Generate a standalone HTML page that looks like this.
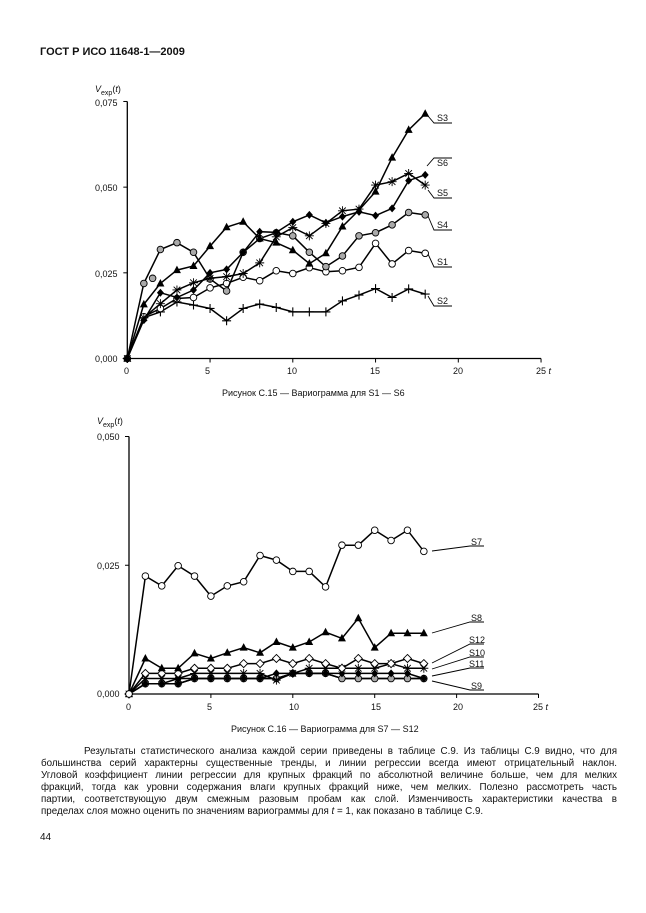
<!DOCTYPE html>
<html><head><meta charset="utf-8">
<style>
body{margin:0;background:#fff;width:646px;height:913px;overflow:hidden;font-family:"Liberation Sans",Arial,sans-serif;color:#111}
#hdr{position:absolute;left:40px;top:46px;font-weight:bold;font-size:11px}
#par{position:absolute;left:41px;top:746px;width:576px;font-size:9.8px;line-height:12px}
#par div{text-align:justify;text-align-last:justify;white-space:nowrap}
#par div.l{text-align-last:left}
#pg{position:absolute;left:40px;top:832px;font-size:10px}
svg{position:absolute;left:0;top:0}
svg text{font-family:"Liberation Sans",Arial,sans-serif;font-size:9px;fill:#111}
</style></head><body>
<div id="hdr">ГОСТ Р ИСО 11648-1—2009</div>
<svg id="s" width="646" height="913" viewBox="0 0 646 913">
<g id="g1"></g><g id="g2"></g>
<text x="95" y="92" font-style="italic">V<tspan font-size="7" dy="3" font-style="normal">exp</tspan><tspan dy="-3" font-style="normal">(</tspan>t<tspan font-style="normal">)</tspan></text>
<text x="95" y="106">0,075</text><text x="95" y="191">0,050</text><text x="95" y="277">0,025</text><text x="95" y="362">0,000</text>
<text x="124" y="374">0</text><text x="205" y="374">5</text><text x="287" y="374">10</text><text x="370" y="374">15</text><text x="453" y="374">20</text><text x="536" y="374">25 <tspan font-style="italic">t</tspan></text>
<text x="222" y="396">Рисунок С.15 — Вариограмма для S1 — S6</text>
<text x="437" y="121">S3</text><text x="437" y="166">S6</text><text x="437" y="196">S5</text><text x="437" y="228">S4</text><text x="437" y="265">S1</text><text x="437" y="304">S2</text>
<text x="97" y="424" font-style="italic">V<tspan font-size="7" dy="3" font-style="normal">exp</tspan><tspan dy="-3" font-style="normal">(</tspan>t<tspan font-style="normal">)</tspan></text>
<text x="97" y="440">0,050</text><text x="97" y="569">0,025</text><text x="97" y="697">0,000</text>
<text x="126" y="710">0</text><text x="207" y="710">5</text><text x="289" y="710">10</text><text x="371" y="710">15</text><text x="453" y="710">20</text><text x="533" y="710">25 <tspan font-style="italic">t</tspan></text>
<text x="231" y="732">Рисунок С.16 — Вариограмма для S7 — S12</text>
<text x="471" y="545">S7</text><text x="471" y="621">S8</text><text x="469" y="643">S12</text><text x="469" y="656">S10</text><text x="469" y="667">S11</text><text x="471" y="689">S9</text>
</svg>
<div id="par">
<div style="padding-left:43px">Результаты статистического анализа каждой серии приведены в таблице С.9. Из таблицы С.9 видно, что для</div>
<div>большинства серий характерны существенные тренды, и линии регрессии всегда имеют отрицательный наклон.</div>
<div>Угловой коэффициент линии регрессии для крупных фракций по абсолютной величине больше, чем для мелких</div>
<div>фракций, тогда как уровни содержания влаги крупных фракций ниже, чем мелких. Полезно рассмотреть часть</div>
<div>партии, соответствующую двум смежным разовым пробам как слой. Изменчивость характеристики качества в</div>
<div class="l">пределах слоя можно оценить по значениям вариограммы для <i>t</i> = 1, как показано в таблице С.9.</div>
</div>
<div id="pg">44</div>
<script>
function draw(gid,X0,PX,Y0,PY,ymax,series,labels){
 var g=document.getElementById(gid),h='';
 var X=function(t){return X0+t*PX},Y=function(v){return Y0-v*PY};
 h+='<line x1="'+X0+'" y1="'+Y(ymax)+'" x2="'+X0+'" y2="'+Y0+'" stroke="#000" stroke-width="1.3"/>';
 h+='<line x1="'+X0+'" y1="'+Y0+'" x2="'+X(25)+'" y2="'+Y0+'" stroke="#000" stroke-width="1.3"/>';
 for(var t=0;t<=25;t+=5)h+='<line x1="'+X(t)+'" y1="'+Y0+'" x2="'+X(t)+'" y2="'+(Y0+4)+'" stroke="#000"/>';
 for(var v=0;v<=ymax+1e-9;v+=25)h+='<line x1="'+(X0-4)+'" y1="'+Y(v)+'" x2="'+X0+'" y2="'+Y(v)+'" stroke="#000"/>';
 series.forEach(function(s){
  var p=s.d.map(function(v,i){return X(i).toFixed(1)+','+Y(v).toFixed(1)}).join(' ');
  h+='<polyline points="'+p+'" fill="none" stroke="#000" stroke-width="1.5"/>';
  s.d.forEach(function(v,i){h+=mk(s.m,X(i),Y(v));});
  if(s.x)s.x.forEach(function(q){h+=mk(s.m,X(q[0]),Y(q[1]));});
 });
 labels.forEach(function(l){
  h+='<polyline points="'+l[0]+','+l[1]+' '+l[2]+','+l[3]+' '+l[4]+','+l[3]+'" fill="none" stroke="#000" stroke-width="0.9"/>';
 });
 g.innerHTML=h;
}
function mk(m,x,y){
 var r=3.3;
 if(m=='tri')return '<polygon points="'+x+','+(y-4.5)+' '+(x-4)+','+(y+3)+' '+(x+4)+','+(y+3)+'" fill="#000"/>';
 if(m=='dia')return '<polygon points="'+x+','+(y-4)+' '+(x+3.5)+','+y+' '+x+','+(y+4)+' '+(x-3.5)+','+y+'" fill="#000"/>';
 if(m=='wdia')return '<polygon points="'+x+','+(y-4)+' '+(x+4)+','+y+' '+x+','+(y+4)+' '+(x-4)+','+y+'" fill="#fff" stroke="#000" stroke-width="0.9"/>';
 if(m=='wc')return '<circle cx="'+x+'" cy="'+y+'" r="'+r+'" fill="#fff" stroke="#000" stroke-width="0.9"/>';
 if(m=='gc')return '<circle cx="'+x+'" cy="'+y+'" r="'+r+'" fill="#aaa" stroke="#000" stroke-width="0.9"/>';
 if(m=='bc')return '<circle cx="'+x+'" cy="'+y+'" r="3.2" fill="#000"/>';
 if(m=='plus')return '<path d="M'+(x-4.5)+' '+y+'h9M'+x+' '+(y-4.5)+'v9" stroke="#000" stroke-width="1.1"/>';
 if(m=='ast')return '<path d="M'+(x-4.5)+' '+y+'h9M'+x+' '+(y-4.5)+'v9M'+(x-3.3)+' '+(y-3.3)+'l6.6 6.6M'+(x+3.3)+' '+(y-3.3)+'l-6.6 6.6" stroke="#000" stroke-width="0.9"/>';
 return '';
}
draw('g1',127.3,16.55,358.5,3.427,75,[
 {m:'plus',d:[0,11.9,13.6,16.5,15.6,14.6,11,14.6,15.9,14.9,13.6,13.6,13.6,16.8,18.5,20.4,17.8,20.3,18.8]},
 {m:'wc',d:[0,12.2,14.6,17.5,17.8,20.6,21.9,23.7,22.7,25.6,24.8,26.5,25.3,25.6,26.6,33.6,27.6,31.5,30.7]},
 {m:'gc',d:[0,21.9,31.8,33.8,31,23.2,19.7,31,35,36.7,35.8,31,26.8,29.9,35.8,36.7,39,42.6,41.9],x:[[1.53,23.4]]},
 {m:'ast',d:[0,11.9,16,20,22.1,23.4,23.9,24.8,27.9,35.5,38.2,35.8,39.4,43.1,43.6,50.6,51.6,54,50.6]},
 {m:'dia',d:[0,11.2,19.2,17.8,20,25,26,31,37,36.8,39.9,41.9,39.6,41.4,42.8,41.7,43.8,51.9,53.6]},
 {m:'tri',d:[0,15.8,21.9,25.8,27,32.8,38.3,39.9,35,33.8,31.6,27.7,30.7,38.5,43.3,48.7,58.6,66.7,71.4]}
],[[428,116,434,123,452],[427,166,434,158,452],[428,190,434,198,452],[428,216,434,230,452],[428,254,434,267,452],[428,296,434,306,452]]);
draw('g2',129,16.38,694,5.15,50,[
 {m:'bc',d:[0,2,2,3,3,3,3,3,3,3,4,4,4,3,3,3,3,3,3]},
 {m:'gc',d:[0,2,2,2,3,3,3,3,3,3,4,4,4,3,3,3,3,3,3]},
 {m:'dia',d:[0,2,2,2,3,3,3,3,3,4,4,4,4,4,4,4,4,4,3]},
 {m:'ast',d:[0,3,3,3,4,4,4,4,4,2.7,4,5,5,5,5,5,5.9,5,5]},
 {m:'wdia',d:[0,4,4,4,5,5,5,5.9,5.9,6.9,5.9,6.9,5.9,5,6.9,5.9,5.9,6.9,5.9]},
 {m:'tri',d:[0,6.9,5,5,7.9,6.9,8,9,8,10.1,9,10.1,12,10.8,14.7,9,11.8,11.8,11.8]},
 {m:'wc',d:[0,22.9,21,24.9,22.9,19,21,21.8,26.9,26,23.8,23.8,20.8,28.9,28.9,31.8,29.8,31.8,27.7]}
],[[432,551,470,546,484],[432,633,470,622,484],[432,663,470,644,484],[432,669,470,657,484],[432,676,470,668,484],[432,681,470,690,484]]);
</script>
</body></html>
